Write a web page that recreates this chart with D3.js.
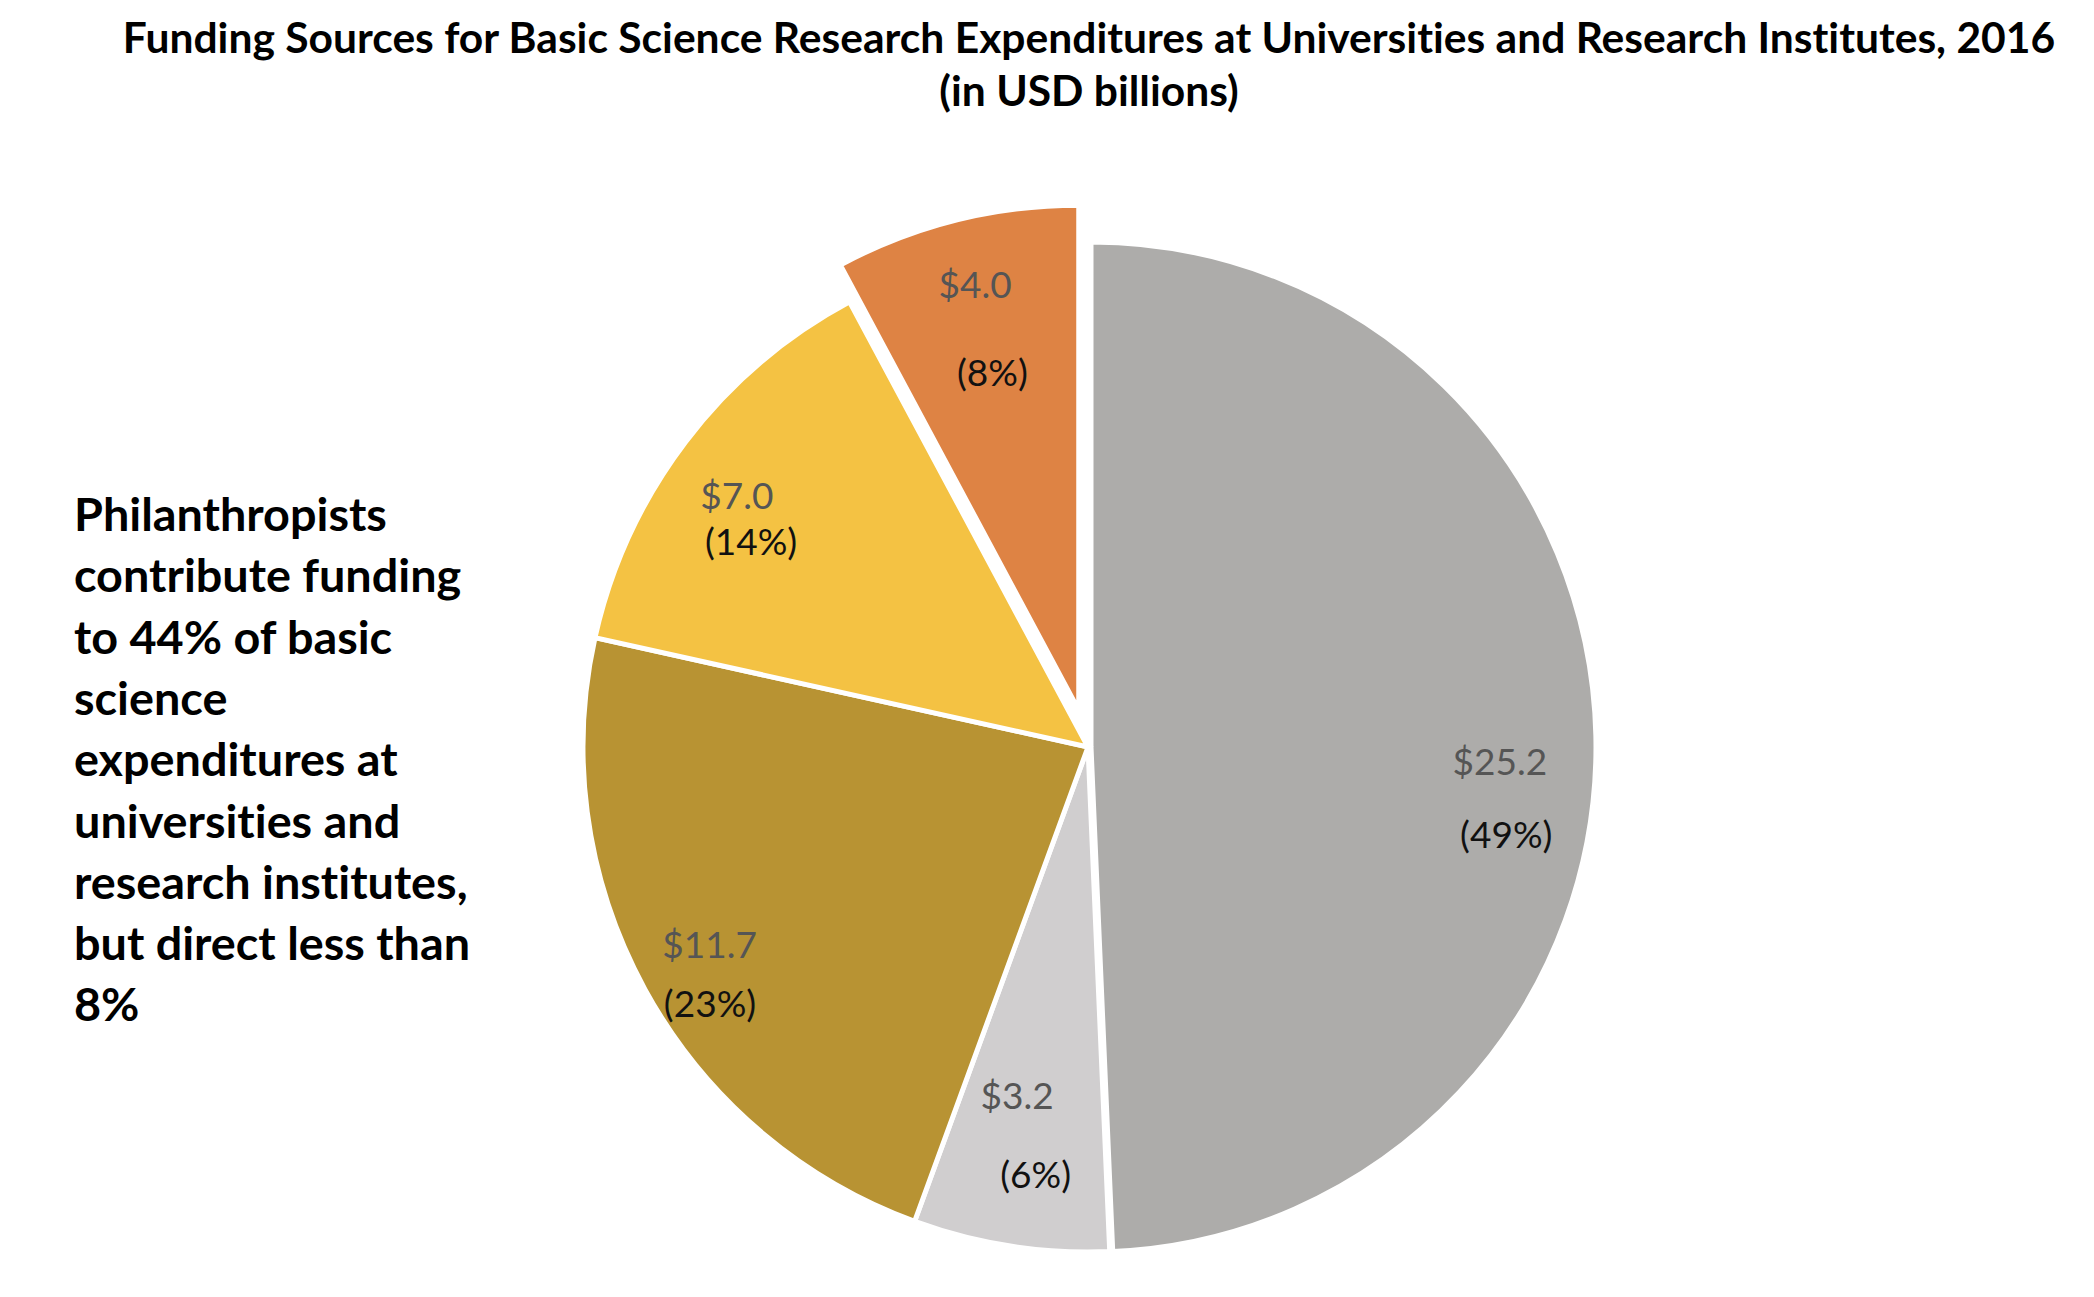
<!DOCTYPE html>
<html>
<head>
<meta charset="utf-8">
<script src="https://cdn.jsdelivr.net/npm/d3@7"></script>
<style>
  html, body { margin: 0; padding: 0; background: #ffffff; }
  svg { display: block; }
  svg text { font-variant-ligatures: none; font-feature-settings: "liga" 0, "clig" 0; }
</style>
</head>
<body>
<div id="chart"></div>
<script>
// ---------- data ----------
const categories = ["Source 1", "Source 2", "Source 3", "Source 4", "Philanthropists"];
const values = [25.2, 3.2, 11.7, 7.0, 4.0];
const titleLines = [
  "Funding Sources for Basic Science Research Expenditures at Universities and Research Institutes, 2016",
  "(in USD billions)"
];
const noteLines = [
  "Philanthropists",
  "contribute funding",
  "to 44% of basic",
  "science",
  "expenditures at",
  "universities and",
  "research institutes,",
  "but direct less than",
  "8%"
];

// ---------- styles / layout ----------
const colors = ["#ADACAA", "#D0CECF", "#B89333", "#F4C243", "#DE8344"];
const explode = [3, 0, 0, 0, 38];
// label placement relative to each slice: angle offset from mid-angle (deg), radius fraction
const labelLayout = [
  { va: 3.2,  vr: 0.810, pa: 13.0, pr: 0.840 },
  { va: 2.7,  vr: 0.703, pa: -1.8, pr: 0.850 },
  { va: 1.3,  vr: 0.844, pa: -5.4, pr: 0.904 },
  { va: -1.4, vr: 0.857, pa: -5.6, pr: 0.783 },
  { va: 0.45, vr: 0.870, pa: -0.2, pr: 0.693 }
];

const W = 2094, H = 1297;
const cx = 1088, cy = 747, R = 505;
const FONT = "Lato, 'Open Sans', 'Noto Sans', sans-serif";

const svg = d3.select("#chart").append("svg")
  .attr("width", W).attr("height", H)
  .attr("viewBox", `0 0 ${W} ${H}`);

svg.append("rect").attr("width", W).attr("height", H).attr("fill", "#ffffff");

// ---------- title ----------
const title = svg.append("g").attr("font-family", FONT).attr("font-weight", 700).attr("fill", "#000");
const t1 = title.append("text").attr("x", 1089).attr("y", 53).attr("text-anchor", "middle")
  .attr("font-size", 40).text(titleLines[0]);
const w1 = t1.node().getComputedTextLength();
const titleSize = 40 * 1933 / w1;
t1.attr("font-size", titleSize);
title.append("text").attr("x", 1089).attr("y", 106).attr("text-anchor", "middle")
  .attr("font-size", titleSize).text(titleLines[1]);

// ---------- note ----------
const note = svg.append("g").attr("font-family", FONT).attr("font-weight", 700).attr("fill", "#000");
const n0 = note.append("text").attr("x", 74).attr("y", 531).attr("font-size", 40).text(noteLines[0]);
const noteSize = 40 * 313 / n0.node().getComputedTextLength();
n0.remove();
note.selectAll("text").data(noteLines).join("text")
  .attr("x", 74)
  .attr("y", (d, i) => 531 + i * 61.3)
  .attr("font-size", noteSize)
  .text(d => d);

// ---------- pie ----------
const data = categories.map((c, i) => ({ category: c, value: values[i], i }));
const total = d3.sum(values);
const pie = d3.pie().sort(null).value(d => d.value).startAngle(0).endAngle(2 * Math.PI);
const arc = d3.arc().innerRadius(0).outerRadius(R);
const arcs = pie(data);

const g = svg.append("g").attr("transform", `translate(${cx},${cy})`);

const slice = g.selectAll("g.slice").data(arcs).join("g")
  .attr("class", "slice")
  .attr("transform", d => {
    const mid = (d.startAngle + d.endAngle) / 2;
    const e = explode[d.data.i];
    return `translate(${Math.sin(mid) * e},${-Math.cos(mid) * e})`;
  });

slice.append("path")
  .attr("d", arc)
  .attr("fill", d => colors[d.data.i])
  .attr("stroke", "#ffffff")
  .attr("stroke-width", 5)
  .attr("stroke-linejoin", "miter");

function polar(angle, rad) {
  return [Math.sin(angle) * rad, -Math.cos(angle) * rad];
}

slice.append("text")
  .attr("transform", d => {
    const L = labelLayout[d.data.i];
    const mid = (d.startAngle + d.endAngle) / 2 + L.va * Math.PI / 180;
    const [x, y] = polar(mid, L.vr * R);
    return `translate(${x},${y})`;
  })
  .attr("text-anchor", "middle")
  .attr("dominant-baseline", "central")
  .attr("font-family", FONT)
  .attr("font-size", 37)
  .attr("fill", "#555555")
  .text(d => "$" + d.data.value.toFixed(1));

slice.append("text")
  .attr("transform", d => {
    const L = labelLayout[d.data.i];
    const mid = (d.startAngle + d.endAngle) / 2 + L.pa * Math.PI / 180;
    const [x, y] = polar(mid, L.pr * R);
    return `translate(${x},${y})`;
  })
  .attr("text-anchor", "middle")
  .attr("dominant-baseline", "central")
  .attr("font-family", FONT)
  .attr("font-size", 37)
  .attr("fill", "#111111")
  .text(d => "(" + Math.round(d.data.value / total * 100) + "%)");
</script>
</body>
</html>
